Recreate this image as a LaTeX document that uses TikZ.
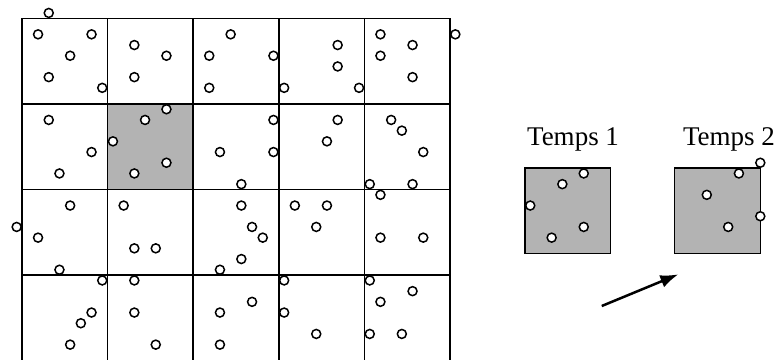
\documentclass[tikz,border=0pt]{standalone}
\usepackage{fontspec}
\setmainfont{Liberation Serif}
\usetikzlibrary{arrows.meta}
\definecolor{cellgray}{RGB}{179,179,179}
\begin{document}
\begin{tikzpicture}[x=10.7pt,y=-10.7pt,
  ball/.style={circle,draw,fill=white,line width=1.5pt,minimum size=9pt,inner sep=0pt},
  gridline/.style={line width=1.5pt},
  tlabel/.style={font=\fontsize{27}{31}\selectfont,anchor=base,inner sep=0pt},
  movearrow/.style={line width=2.5pt,-{Latex[length=18pt,width=13pt]}}]
\useasboundingbox (-2.056,-1.710) rectangle (70.374,31.93);
% grid
\fill[cellgray] (8,8) rectangle (16,16);
\foreach \c in {0,8,16,24,32,40} \draw[gridline] (\c,0) -- (\c,32);
\foreach \r in {0,8,16,24,32} \draw[gridline] (0,\r) -- (40,\r);
% squares
\draw[gridline,fill=cellgray] (47,14) rectangle (55,22);
\draw[gridline,fill=cellgray] (61,14) rectangle (69,22);
% circles in grid
\foreach \x/\y [count=\i] in {2.5/-0.5,1.5/1.5,6.5/1.5,4.5/3.5,2.5/5.5,7.5/6.5,10.5/2.5,13.5/3.5,10.5/5.5,
19.5/1.5,17.5/3.5,23.5/3.5,17.5/6.5,24.5/6.5,29.5/2.5,29.5/4.5,31.5/6.5,33.5/1.5,33.5/3.5,36.5/2.5,36.5/5.5,40.5/1.5,
2.5/9.5,6.5/12.5,3.5/14.5,8.5/11.5,11.5/9.5,13.5/8.5,13.5/13.5,10.5/14.5,
4.5/17.5,-0.5/19.5,1.5/20.5,3.5/23.5,9.5/17.5,10.5/21.5,12.5/21.5,
23.5/9.5,18.5/12.5,23.5/12.5,20.5/15.5,29.5/9.5,28.5/11.5,34.5/9.5,35.5/10.5,37.5/12.5,32.5/15.5,36.5/15.5,33.5/16.5,
20.5/17.5,21.5/19.5,22.5/20.5,20.5/22.5,18.5/23.5,25.5/17.5,28.5/17.5,27.5/19.5,33.5/20.5,37.5/20.5,
7.5/24.5,10.5/24.5,6.5/27.5,5.5/28.5,4.5/30.5,10.5/27.5,12.5/30.5,
24.5/24.5,24.5/27.5,27.5/29.5,18.5/27.5,21.5/26.5,18.5/30.5,32.5/24.5,36.5/25.5,33.5/26.5,32.5/29.5,35.5/29.5}
  \node[ball] (g\i) at (\x,\y) {};
% Temps 1
\foreach \x/\y [count=\i] in {52.5/14.5,50.5/15.5,47.5/17.5,52.5/19.5,49.5/20.5}
  \node[ball] (a\i) at (\x,\y) {};
% Temps 2
\foreach \x/\y [count=\i] in {69/13.5,67/14.5,64/16.5,66/19.5,69/18.5}
  \node[ball] (b\i) at (\x,\y) {};
\node[tlabel] (t1) at (51.5,11.9) {Temps 1};
\node[tlabel] (t2) at (66.07,11.9) {Temps 2};
\coordinate (arrtail) at (54.18,26.89);
\coordinate (arrtip) at (61.34,23.93);
\draw[movearrow] (arrtail) -- (arrtip);
\end{tikzpicture}
\end{document}
